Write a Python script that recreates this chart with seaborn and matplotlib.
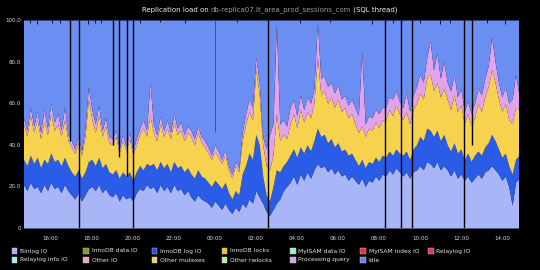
import numpy as np
import matplotlib
matplotlib.use("Agg")
import matplotlib.pyplot as plt
import seaborn as sns
from matplotlib.patches import Rectangle

# ---------------- data (percent of SQL thread time, 10-minute samples) ----------------
start_hour = 14.67          # 14:40
step_hours = 1.0 / 6.0      # 10 minutes

binlog_io = [21,18,22,19,20,17,21,18,22,19,20,17,21,18,
             16,14,17,13,16,19,20,18,21,17,19,16,
             15,17,13,16,14,15,13,
             17,19,18,21,19,20,17,21,18,20,17,21,18,19,16,18,
             15,13,16,14,13,
             12,10,13,11,9,12,
             9,7,10,8,
             12,10,14,12,18,15,
             12,8,6,9,12,14,18,20,
             22,25,21,26,23,27,24,28,31,29,
             30,27,29,26,28,25,26,23,25,
             23,21,24,20,23,
             22,25,23,26,
             25,28,26,29,27,
             25,27,24,27,28,
             30,28,32,31,29,32,28,30,
             28,25,28,24,26,
             23,25,22,24,
             26,24,27,28,30,28,
             26,23,25,20,11,22,24]

innodb_log_io = [12,12,13,12,14,12,12,13,14,13,13,13,13,12,
                 11,11,11,11,11,13,13,12,13,12,12,11,
                 11,11,11,11,11,12,10,
                 10,11,10,10,11,11,11,11,11,11,10,11,11,11,11,11,
                 11,11,12,11,11,
                 10,10,10,10,10,10,
                 8,7,8,8,
                 14,20,22,21,27,25,
                 13,8,7,11,16,13,12,12,
                 13,13,13,13,13,13,13,14,17,15,
                 15,14,14,13,13,12,12,12,11,
                 10,9,9,9,9,
                 9,9,9,9,
                 9,9,9,9,9,
                 10,10,9,11,12,
                 14,14,16,16,15,15,14,15,
                 12,12,13,12,12,
                 10,11,10,11,
                 11,11,12,13,15,14,
                 12,11,11,10,15,11,11]

other_mutexes = [17,14,19,15,18,14,18,14,19,15,17,14,18,12,
                 12,11,13,11,17,30,19,16,20,15,18,14,
                 14,16,12,15,12,16,12,
                 13,15,20,13,24,15,14,18,15,17,16,19,16,17,15,17,
                 18,16,18,16,15,
                 14,13,14,13,12,13,
                 11,10,12,11,
                 16,20,20,19,31,24,
                 15,14,15,15,27,15,15,11,
                 15,17,14,18,15,16,16,18,34,20,
                 21,19,20,19,21,19,20,18,19,
                 17,16,16,15,16,
                 16,17,16,17,
                 18,20,19,21,19,
                 17,19,17,19,20,
                 21,20,24,27,22,23,21,22,
                 22,20,23,20,21,
                 17,19,17,18,
                 23,21,24,27,31,28,
                 24,22,24,22,24,25,22]

processing_query = [3,3,4,3,4,3,6,3,5,4,5,3,6,3,
                    3,2,3,2,4,6,5,4,5,3,4,3,
                    3,3,2,3,2,3,2,
                    3,3,4,3,16,4,3,4,3,4,3,4,3,4,3,3,
                    3,3,3,3,3,
                    3,2,3,3,2,3,
                    2,2,2,2,
                    4,5,6,6,6,6,
                    4,8,17,15,43,8,7,6,
                    8,7,6,7,6,7,7,7,17,8,
                    7,8,7,7,7,6,6,6,7,
                    8,8,36,6,6,
                    6,6,7,6,
                    6,6,8,7,6,
                    6,9,6,7,8,
                    9,8,10,16,10,14,9,13,
                    8,9,10,7,8,
                    6,6,6,7,
                    7,8,9,10,16,10,
                    8,7,8,8,12,16,7]

idle = [47,53,42,51,44,54,43,52,40,49,45,53,42,55,
        58,62,56,63,52,32,43,50,41,53,47,56,
        57,53,62,55,61,54,63,
        57,52,48,53,30,50,55,46,53,48,54,45,52,49,55,51,
        53,57,51,56,58,
        61,65,60,63,67,62,
        70,74,68,71,
        54,45,38,42,18,30,
        56,62,55,50,2,50,48,51,
        42,38,46,36,43,37,40,33,1,28,
        27,32,30,35,31,38,36,41,38,
        42,46,15,50,46,
        47,43,45,42,
        42,37,38,34,39,
        42,35,44,36,32,
        26,30,18,10,24,16,28,20,
        30,34,26,37,33,
        44,39,45,40,
        33,36,28,22,8,20,
        30,37,32,40,38,26,36]

# moments with missing samples (black gaps) and the level the total fell to
gap_hours = [16.94, 17.38, 19.04, 19.33, 19.72, 20.01, 26.60, 32.30, 33.09, 33.62, 36.16, 36.55]
gap_floor = [42, 0, 40, 34, 25, 0, 0, 0, 0, 0, 0, 40]
faint_gap_hours = [24.01]
faint_gap_floor = [46]
notch_hours = [14.99, 15.33, 16.06, 16.45, 17.82, 18.16, 18.45, 20.35, 21.33, 22.55, 25.08,
               28.16, 29.62, 31.67, 32.67, 34.01, 34.99, 35.48, 37.28, 38.16]
notch_floor = [98.5, 98, 98.5, 98.5, 98, 98.5, 98.5, 98.5, 99, 98.5, 99,
               98.5, 99, 98, 98.5, 98.5, 98, 98.5, 98.5, 98]

tick_hours = [16, 18, 20, 22, 24, 26, 28, 30, 32, 34, 36, 38]
tick_labels = ["16:00", "18:00", "20:00", "22:00", "00:00", "02:00",
               "04:00", "06:00", "08:00", "10:00", "12:00", "14:00"]
y_ticks = [0, 20, 40, 60, 80, 100]
y_labels = ["0", "20.0", "40.0", "60.0", "80.0", "100.0"]

title_parts = ["Replication load on ", "db-replica07.lt_area_prod_sessions_com", " (SQL thread)"]

legend_labels = ["Binlog IO", "InnoDB data IO", "InnoDB log IO", "InnoDB locks",
                 "MyISAM data IO", "MyISAM index IO", "Relaylog IO",
                 "Relaylog info IO", "Other IO", "Other mutexes", "Other rwlocks",
                 "Processing query", "Idle"]
legend_colors = ["#a8b5f6", "#8a9a1a", "#2050e8", "#f0c030",
                 "#a0f0c0", "#e03838", "#d83878",
                 "#a8ecf8", "#f0a8b8", "#f8d058", "#b8f0a0",
                 "#e0a0f0", "#6888f0"]

# ---------------- style ----------------
sns.set_theme(style="dark", rc={
    "figure.facecolor": "black",
    "axes.facecolor": "black",
    "savefig.facecolor": "black",
    "axes.edgecolor": "black",
    "text.color": "#e8e8e8",
    "xtick.color": "#dddddd",
    "ytick.color": "#dddddd",
})
plt.rcParams["font.family"] = ["DejaVu Sans"]

W, H = 540, 270
fig = plt.figure(figsize=(W / 100, H / 100), dpi=100)
ax = fig.add_axes([23.5 / W, 42 / H, 494.5 / W, 208 / H])

n = len(idle)
hours = start_hour + np.arange(n) * step_hours

stack_colors = ["#a8b5f6", "#2b5ce8", "#f6d24e", "#e2a2ec", "#6b8ef2"]
ax.stackplot(hours, binlog_io, innodb_log_io, other_mutexes, processing_query, idle,
             colors=stack_colors, linewidth=0)

ax.vlines(gap_hours, gap_floor, 100, colors="black", linewidth=1.0)
ax.vlines(faint_gap_hours, faint_gap_floor, 100, colors="#2a3a80", linewidth=0.5)
ax.vlines(notch_hours, notch_floor, 100, colors="black", linewidth=0.6)

ax.set_xlim(14.67, 38.79)
ax.set_ylim(0, 100)
ax.set_xticks(tick_hours)
ax.set_xticklabels(tick_labels)
ax.set_yticks(y_ticks)
ax.set_yticklabels(y_labels)
ax.tick_params(axis="x", length=0, pad=6, labelsize=4.0, colors="#dddddd")
ax.tick_params(axis="y", length=0, pad=2, labelsize=4.0, colors="#dddddd")
ax.grid(False)
for s in ax.spines.values():
    s.set_visible(False)

# ---------------- title (host name shown greyed, as in the original) ----------------
renderer = fig.canvas.get_renderer()
ty = 1 - 10 / H
part_colors = ["#f0f0f0", "#9a9a9a", "#f0f0f0"]
texts = [fig.text(0, ty, p, ha="left", va="center", fontsize=5.0, color=c)
         for p, c in zip(title_parts, part_colors)]
widths = [t.get_window_extent(renderer).width for t in texts]
x = (W - sum(widths)) / 2
for t, w in zip(texts, widths):
    t.set_x(x / W)
    x += w

# ---------------- legend ----------------
col_x = [11.7, 83.3, 151.7, 221.7, 290, 360, 428]
row_y = [251, 260]
sq = 5.5
for k, (lab, colr) in enumerate(zip(legend_labels, legend_colors)):
    r, c = divmod(k, 7)
    x0 = col_x[c]
    yc = row_y[r]
    fig.patches.append(Rectangle((x0 / W, 1 - (yc + sq / 2) / H), sq / W, sq / H,
                                 transform=fig.transFigure, facecolor=colr,
                                 edgecolor="#cccccc", linewidth=0.3))
    fig.text((x0 + 8.5) / W, 1 - yc / H, lab, ha="left", va="center", fontsize=4.3, color="#e8e8e8")

fig.savefig("out.png", dpi=100, facecolor="black")
